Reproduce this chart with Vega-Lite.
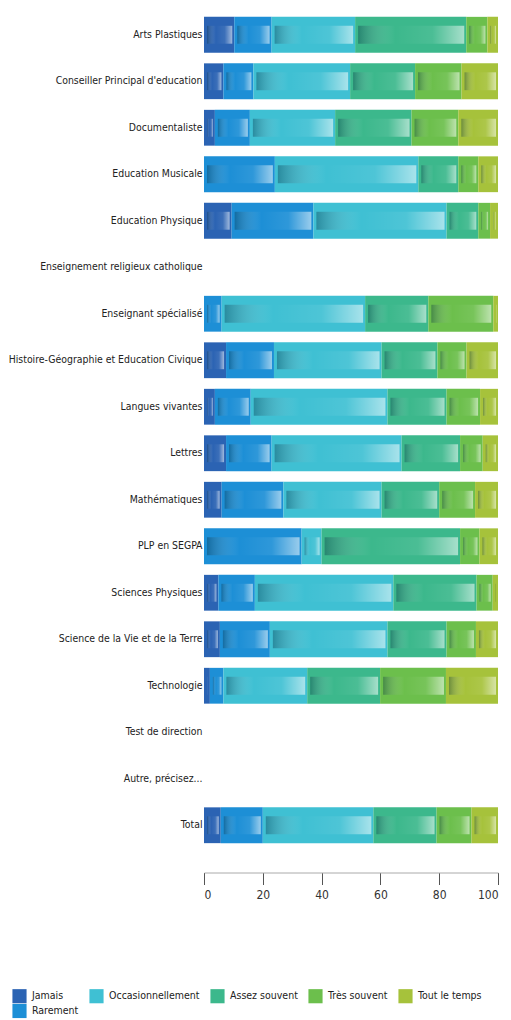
{
  "$schema": "https://vega.github.io/schema/vega-lite/v6.json",
  "autosize": {"type": "none"},
  "width": 294,
  "height": 837,
  "padding": {"left": 204, "top": 11.5, "right": 13, "bottom": 171.5},
  "background": "white",
  "config": {"view": {"stroke": null}, "font": "DejaVu Sans Condensed"},
  "data": {"values": [
    {"cat": "Arts Plastiques", "freq": "Jamais", "k": 1, "v": 10.3},
    {"cat": "Arts Plastiques", "freq": "Rarement", "k": 2, "v": 12.7},
    {"cat": "Arts Plastiques", "freq": "Occasionnellement", "k": 3, "v": 28.4},
    {"cat": "Arts Plastiques", "freq": "Assez souvent", "k": 4, "v": 37.8},
    {"cat": "Arts Plastiques", "freq": "Très souvent", "k": 5, "v": 7.2},
    {"cat": "Arts Plastiques", "freq": "Tout le temps", "k": 6, "v": 3.6},
    {"cat": "Conseiller Principal d'education", "freq": "Jamais", "k": 1, "v": 6.6},
    {"cat": "Conseiller Principal d'education", "freq": "Rarement", "k": 2, "v": 10.2},
    {"cat": "Conseiller Principal d'education", "freq": "Occasionnellement", "k": 3, "v": 32.9},
    {"cat": "Conseiller Principal d'education", "freq": "Assez souvent", "k": 4, "v": 22.1},
    {"cat": "Conseiller Principal d'education", "freq": "Très souvent", "k": 5, "v": 15.8},
    {"cat": "Conseiller Principal d'education", "freq": "Tout le temps", "k": 6, "v": 12.4},
    {"cat": "Documentaliste", "freq": "Jamais", "k": 1, "v": 3.7},
    {"cat": "Documentaliste", "freq": "Rarement", "k": 2, "v": 11.9},
    {"cat": "Documentaliste", "freq": "Occasionnellement", "k": 3, "v": 29},
    {"cat": "Documentaliste", "freq": "Assez souvent", "k": 4, "v": 26},
    {"cat": "Documentaliste", "freq": "Très souvent", "k": 5, "v": 15.9},
    {"cat": "Documentaliste", "freq": "Tout le temps", "k": 6, "v": 13.5},
    {"cat": "Education Musicale", "freq": "Rarement", "k": 2, "v": 24.1},
    {"cat": "Education Musicale", "freq": "Occasionnellement", "k": 3, "v": 48.8},
    {"cat": "Education Musicale", "freq": "Assez souvent", "k": 4, "v": 13.6},
    {"cat": "Education Musicale", "freq": "Très souvent", "k": 5, "v": 6.8},
    {"cat": "Education Musicale", "freq": "Tout le temps", "k": 6, "v": 6.7},
    {"cat": "Education Physique", "freq": "Jamais", "k": 1, "v": 9.4},
    {"cat": "Education Physique", "freq": "Rarement", "k": 2, "v": 27.8},
    {"cat": "Education Physique", "freq": "Occasionnellement", "k": 3, "v": 45.3},
    {"cat": "Education Physique", "freq": "Assez souvent", "k": 4, "v": 10.8},
    {"cat": "Education Physique", "freq": "Très souvent", "k": 5, "v": 4},
    {"cat": "Education Physique", "freq": "Tout le temps", "k": 6, "v": 2.7},
    {"cat": "Enseignant spécialisé", "freq": "Rarement", "k": 2, "v": 6},
    {"cat": "Enseignant spécialisé", "freq": "Occasionnellement", "k": 3, "v": 48.8},
    {"cat": "Enseignant spécialisé", "freq": "Assez souvent", "k": 4, "v": 21.5},
    {"cat": "Enseignant spécialisé", "freq": "Très souvent", "k": 5, "v": 22.1},
    {"cat": "Enseignant spécialisé", "freq": "Tout le temps", "k": 6, "v": 1.6},
    {"cat": "Histoire-Géographie et Education Civique", "freq": "Jamais", "k": 1, "v": 7.5},
    {"cat": "Histoire-Géographie et Education Civique", "freq": "Rarement", "k": 2, "v": 16.3},
    {"cat": "Histoire-Géographie et Education Civique", "freq": "Occasionnellement", "k": 3, "v": 36.6},
    {"cat": "Histoire-Géographie et Education Civique", "freq": "Assez souvent", "k": 4, "v": 19},
    {"cat": "Histoire-Géographie et Education Civique", "freq": "Très souvent", "k": 5, "v": 9.9},
    {"cat": "Histoire-Géographie et Education Civique", "freq": "Tout le temps", "k": 6, "v": 10.7},
    {"cat": "Langues vivantes", "freq": "Jamais", "k": 1, "v": 3.7},
    {"cat": "Langues vivantes", "freq": "Rarement", "k": 2, "v": 12.2},
    {"cat": "Langues vivantes", "freq": "Occasionnellement", "k": 3, "v": 46.5},
    {"cat": "Langues vivantes", "freq": "Assez souvent", "k": 4, "v": 20.1},
    {"cat": "Langues vivantes", "freq": "Très souvent", "k": 5, "v": 11.4},
    {"cat": "Langues vivantes", "freq": "Tout le temps", "k": 6, "v": 6.1},
    {"cat": "Lettres", "freq": "Jamais", "k": 1, "v": 7.5},
    {"cat": "Lettres", "freq": "Rarement", "k": 2, "v": 15.5},
    {"cat": "Lettres", "freq": "Occasionnellement", "k": 3, "v": 44.2},
    {"cat": "Lettres", "freq": "Assez souvent", "k": 4, "v": 19.9},
    {"cat": "Lettres", "freq": "Très souvent", "k": 5, "v": 7.7},
    {"cat": "Lettres", "freq": "Tout le temps", "k": 6, "v": 5.2},
    {"cat": "Mathématiques", "freq": "Jamais", "k": 1, "v": 6},
    {"cat": "Mathématiques", "freq": "Rarement", "k": 2, "v": 21},
    {"cat": "Mathématiques", "freq": "Occasionnellement", "k": 3, "v": 33.4},
    {"cat": "Mathématiques", "freq": "Assez souvent", "k": 4, "v": 19.6},
    {"cat": "Mathématiques", "freq": "Très souvent", "k": 5, "v": 12.2},
    {"cat": "Mathématiques", "freq": "Tout le temps", "k": 6, "v": 7.8},
    {"cat": "PLP en SEGPA", "freq": "Rarement", "k": 2, "v": 33.2},
    {"cat": "PLP en SEGPA", "freq": "Occasionnellement", "k": 3, "v": 6.8},
    {"cat": "PLP en SEGPA", "freq": "Assez souvent", "k": 4, "v": 47.1},
    {"cat": "PLP en SEGPA", "freq": "Très souvent", "k": 5, "v": 6.6},
    {"cat": "PLP en SEGPA", "freq": "Tout le temps", "k": 6, "v": 6.3},
    {"cat": "Sciences Physiques", "freq": "Jamais", "k": 1, "v": 4.9},
    {"cat": "Sciences Physiques", "freq": "Rarement", "k": 2, "v": 12.4},
    {"cat": "Sciences Physiques", "freq": "Occasionnellement", "k": 3, "v": 47.1},
    {"cat": "Sciences Physiques", "freq": "Assez souvent", "k": 4, "v": 28.3},
    {"cat": "Sciences Physiques", "freq": "Très souvent", "k": 5, "v": 5.5},
    {"cat": "Sciences Physiques", "freq": "Tout le temps", "k": 6, "v": 1.8},
    {"cat": "Science de la Vie et de la Terre", "freq": "Jamais", "k": 1, "v": 5.4},
    {"cat": "Science de la Vie et de la Terre", "freq": "Rarement", "k": 2, "v": 17},
    {"cat": "Science de la Vie et de la Terre", "freq": "Occasionnellement", "k": 3, "v": 40},
    {"cat": "Science de la Vie et de la Terre", "freq": "Assez souvent", "k": 4, "v": 20.1},
    {"cat": "Science de la Vie et de la Terre", "freq": "Très souvent", "k": 5, "v": 10},
    {"cat": "Science de la Vie et de la Terre", "freq": "Tout le temps", "k": 6, "v": 7.5},
    {"cat": "Technologie", "freq": "Jamais", "k": 1, "v": 2},
    {"cat": "Technologie", "freq": "Rarement", "k": 2, "v": 4.6},
    {"cat": "Technologie", "freq": "Occasionnellement", "k": 3, "v": 28.5},
    {"cat": "Technologie", "freq": "Assez souvent", "k": 4, "v": 24.8},
    {"cat": "Technologie", "freq": "Très souvent", "k": 5, "v": 22.4},
    {"cat": "Technologie", "freq": "Tout le temps", "k": 6, "v": 17.7},
    {"cat": "Total", "freq": "Jamais", "k": 1, "v": 5.7},
    {"cat": "Total", "freq": "Rarement", "k": 2, "v": 14.3},
    {"cat": "Total", "freq": "Occasionnellement", "k": 3, "v": 37.6},
    {"cat": "Total", "freq": "Assez souvent", "k": 4, "v": 21.5},
    {"cat": "Total", "freq": "Très souvent", "k": 5, "v": 11.9},
    {"cat": "Total", "freq": "Tout le temps", "k": 6, "v": 9}
  ]},
  "transform": [
    {"stack": "v", "groupby": ["cat"], "sort": [{"field": "k", "order": "ascending"}], "as": ["x0", "x1"]}
  ],
  "encoding": {
    "y": {
      "field": "cat", "type": "nominal",
      "scale": {
        "domain": ["Arts Plastiques", "Conseiller Principal d'education", "Documentaliste", "Education Musicale", "Education Physique", "Enseignement religieux catholique", "Enseignant spécialisé", "Histoire-Géographie et Education Civique", "Langues vivantes", "Lettres", "Mathématiques", "PLP en SEGPA", "Sciences Physiques", "Science de la Vie et de la Terre", "Technologie", "Test de direction", "Autre, précisez...", "Total"],
        "paddingInner": 0.23, "paddingOuter": 0.115
      },
      "axis": {"title": null, "domain": false, "ticks": false, "labelPadding": 2, "labelFontSize": 10.4, "labelColor": "#222222", "labelLimit": 300, "labelFont": "DejaVu Sans Condensed"}
    },
    "x": {
      "field": "x0", "type": "quantitative",
      "scale": {"domain": [0, 100], "nice": false},
      "axis": {"title": null, "values": [0, 20, 40, 60, 80, 100], "grid": false, "offset": 24, "tickSize": 12, "tickColor": "#555555", "domainColor": "#aaaaaa", "labelFontSize": 12, "labelColor": "#333333", "labelPadding": 5, "labelFont": "DejaVu Sans Condensed"}
    },
    "x2": {"field": "x1"}
  },
  "layer": [
    {
      "mark": {"type": "bar"},
      "encoding": {
        "color": {
          "field": "freq", "type": "nominal",
          "scale": {
            "domain": ["Jamais", "Occasionnellement", "Assez souvent", "Très souvent", "Tout le temps", "Rarement"],
            "range": ["#2b63b3", "#3fc0d3", "#3cb88c", "#6cbf4c", "#a6c23b", "#1d8fd6"]
          },
          "legend": {
            "title": null, "orient": "none", "legendX": -192, "legendY": 977, "direction": "horizontal", "columns": 5,
            "symbolType": "square", "symbolSize": 200, "symbolStrokeWidth": 0, "symbolOpacity": 1,
            "labelFontSize": 10.5, "labelFont": "DejaVu Sans Condensed", "labelColor": "#222222",
            "columnPadding": 10, "rowPadding": 0, "labelOffset": 5
          }
        }
      }
    },
    {
      "mark": {
        "type": "bar", "height": {"band": 0.5}, "xOffset": 3, "x2Offset": -2,
        "color": {
          "gradient": "linear", "x1": 0, "y1": 0, "x2": 1, "y2": 0,
          "stops": [
            {"offset": 0, "color": "rgba(0,40,60,0.35)"},
            {"offset": 0.35, "color": "rgba(255,255,255,0)"},
            {"offset": 0.7, "color": "rgba(255,255,255,0.08)"},
            {"offset": 1, "color": "rgba(255,255,255,0.55)"}
          ]
        }
      },
      "encoding": {"detail": {"field": "freq"}}
    }
  ]
}
